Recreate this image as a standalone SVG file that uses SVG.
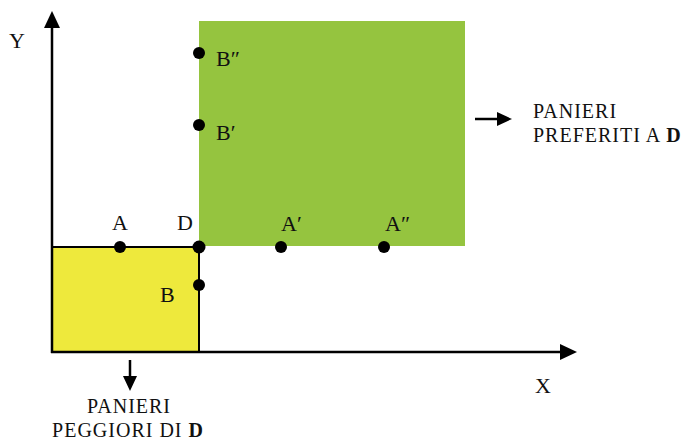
<svg xmlns="http://www.w3.org/2000/svg" width="690" height="444" viewBox="0 0 690 444">
<style>
.t{font-family:"Liberation Serif","Times New Roman",serif;font-size:22px;fill:#111}
.s{font-family:"Liberation Serif","Times New Roman",serif;font-size:20px;fill:#111;letter-spacing:1px}
.ln{stroke:#000;stroke-width:2.5;fill:none}
.dot{fill:#000}
</style>
<defs>
<marker id="ah" markerWidth="17" markerHeight="16" refX="1" refY="8" orient="auto" markerUnits="userSpaceOnUse">
<path d="M0,0 L17,8 L0,16 z" fill="#000"/>
</marker>
<marker id="ahs" markerWidth="15" markerHeight="14" refX="1" refY="7" orient="auto" markerUnits="userSpaceOnUse">
<path d="M0,0 L15,7 L0,14 z" fill="#000"/>
</marker>
</defs>
<g id="regions">
<rect id="preferred" x="199" y="21" width="266" height="225" fill="#95C43F"/>
<rect id="worse" x="52" y="247" width="147" height="105" fill="#EEE93C"/>
</g>
<g id="connectors">
<line class="ln" x1="52" y1="353" x2="52" y2="27" marker-end="url(#ah)"/>
<line class="ln" x1="51" y1="352" x2="561" y2="352" marker-end="url(#ah)"/>
<line stroke="#000" stroke-width="2" x1="52" y1="247" x2="199" y2="247"/>
<line stroke="#000" stroke-width="2" x1="199" y1="246" x2="199" y2="352"/>
<line stroke="#000" stroke-width="2.5" x1="475" y1="119" x2="498" y2="119" marker-end="url(#ahs)"/>
<line stroke="#000" stroke-width="2.5" x1="130" y1="360" x2="130" y2="377" marker-end="url(#ahs)"/>
</g>
<g id="axis-labels">
<text class="t" x="9" y="48">Y</text>
<text class="t" x="535" y="393">X</text>
</g>
<g id="point-Bpp"><circle class="dot" cx="199" cy="53" r="6"/><text class="t" x="216" y="66">B″</text></g>
<g id="point-Bp"><circle class="dot" cx="199" cy="125" r="6"/><text class="t" x="216" y="140">B′</text></g>
<g id="point-A"><circle class="dot" cx="120" cy="247" r="6"/><text class="t" x="112" y="230">A</text></g>
<g id="point-D"><circle class="dot" cx="199" cy="247" r="6.5"/><text class="t" x="177" y="230">D</text></g>
<g id="point-Ap"><circle class="dot" cx="281" cy="247" r="6"/><text class="t" x="281" y="231">A′</text></g>
<g id="point-App"><circle class="dot" cx="384" cy="247" r="6"/><text class="t" x="385" y="231">A″</text></g>
<g id="point-B"><circle class="dot" cx="199" cy="285" r="6"/><text class="t" x="160" y="302">B</text></g>
<g id="label-preferred">
<text class="s" x="533" y="118">PANIERI</text>
<text class="s" x="533" y="142">PREFERITI A <tspan font-weight="bold">D</tspan></text>
</g>
<g id="label-worse">
<text class="s" x="129" y="413" text-anchor="middle">PANIERI</text>
<text class="s" x="128" y="437" text-anchor="middle">PEGGIORI DI <tspan font-weight="bold">D</tspan></text>
</g>
</svg>
